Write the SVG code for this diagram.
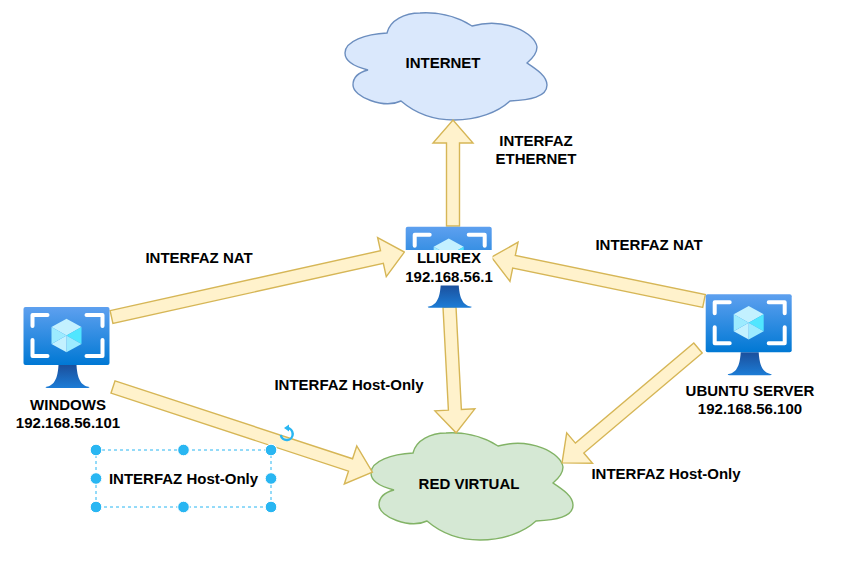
<svg xmlns="http://www.w3.org/2000/svg" xmlns:xlink="http://www.w3.org/1999/xlink" width="845" height="581" viewBox="0 0 845 581">
<style>
text{font-family:"Liberation Sans",Arial,sans-serif;font-size:15px;font-weight:bold;fill:#000;text-anchor:middle}
.arrow{fill:#fff2cc;stroke:#d6b656;stroke-width:1.4;stroke-linejoin:miter}
.h{fill:#29b6f2;stroke:#fff;stroke-width:1}
.br{fill:none;stroke:#fff;stroke-width:4;stroke-linecap:round;stroke-linejoin:round}
</style>
<defs>
<linearGradient id="scr" x1="0" y1="0" x2="0" y2="1"><stop offset="0" stop-color="#5ea0ef"/><stop offset="1" stop-color="#0078d4"/></linearGradient>
<linearGradient id="std" x1="0" y1="0" x2="0" y2="1"><stop offset="0" stop-color="#1b4f9c"/><stop offset="1" stop-color="#1c7cd6"/></linearGradient>
<path id="cloud" d="M387 33C366 34 345 41 345 53C345 62 356 67 368 70C356 73 353 80 353 85C353 97 384 109 401 101C415 113 433 120 454 120C478 120 498 112 510 101C530 100 547 97 547 85C547 76 536 69 527 63C533 58 537 53 537 47C535 33 505 17 472 26C455 15 435 12 420 13C405 13 390 20 387 33Z" stroke-width="1.4"/>
<g id="vm">
<path d="M22 80C28 79 34 76 35 58H53C54 76 60 79 66 80Q66 81 64 81H24Q22 81 22 80Z" fill="url(#std)"/>
<rect x="0" y="0" width="86" height="58" rx="2" fill="url(#scr)"/>
<path class="br" d="M9 19V8H24M63 8H79V19M9 33V49H24M63 49H79V33"/>
<path d="M43 11.700L58 20L43 28.500L28 20Z" fill="#c3f1ff"/>
<path d="M58 20V37L43 28.500Z" fill="#50e6ff"/>
<path d="M58 37L43 45.300V28.500Z" fill="#9cebff"/>
<path d="M28 37L43 45.300V28.500Z" fill="#c3f1ff"/>
<path d="M28 20V37L43 28.500Z" fill="#9cebff"/>
</g>
</defs>
<rect width="845" height="581" fill="#fff"/>
<g id="node-internet">
<use href="#cloud" xlink:href="#cloud" fill="#dae8fc" stroke="#6c8ebf"/>
<text x="443" y="68">INTERNET</text>
</g>
<g id="node-red-virtual">
<use href="#cloud" xlink:href="#cloud" transform="translate(26 420)" fill="#d5e8d4" stroke="#82b366"/>
<text x="469" y="489">RED VIRTUAL</text>
</g>
<g id="connectors">
<polygon class="arrow" transform="translate(453 226) rotate(-90)" points="0,-6.500 83,-6.500 83,-20 106,0 83,20 83,6.500 0,6.500"/>
<polygon class="arrow" transform="translate(111.500 317) rotate(-12.500)" points="0,-6.500 277,-6.500 277,-20 300,0 277,20 277,6.500 0,6.500"/>
<polygon class="arrow" transform="translate(704 301) rotate(191.670)" points="0,-6.500 194,-6.500 194,-20 217,0 194,20 194,6.500 0,6.500"/>
<polygon class="arrow" transform="translate(449.500 307) rotate(87)" points="0,-6.500 103,-6.500 103,-20 126,0 103,20 103,6.500 0,6.500"/>
<polygon class="arrow" transform="translate(113 387) rotate(18.170)" points="0,-6.500 250,-6.500 250,-20 273,0 250,20 250,6.500 0,6.500"/>
<polygon class="arrow" transform="translate(698 348) rotate(139.800)" points="0,-6.500 155,-6.500 155,-20 178,0 155,20 155,6.500 0,6.500"/>
</g>
<g id="node-lliurex">
<use href="#vm" xlink:href="#vm" x="405.700" y="226.700"/>
<rect x="405" y="250" width="87.500" height="35.500" fill="#fff"/>
<text x="449" y="263">LLIUREX</text>
<text x="449" y="282">192.168.56.1</text>
</g>
<g id="node-windows">
<use href="#vm" xlink:href="#vm" x="23.500" y="307"/>
<text x="68" y="410">WINDOWS</text>
<text x="68" y="428">192.168.56.101</text>
</g>
<g id="node-ubuntu">
<use href="#vm" xlink:href="#vm" x="705.700" y="294.300"/>
<text x="750" y="396">UBUNTU SERVER</text>
<text x="750" y="414">192.168.56.100</text>
</g>
<g id="label-nat-left"><text x="199" y="263">INTERFAZ NAT</text></g>
<g id="label-nat-right"><text x="649" y="250">INTERFAZ NAT</text></g>
<g id="label-ethernet"><text x="536" y="146">INTERFAZ</text><text x="536" y="164">ETHERNET</text></g>
<g id="label-host-center"><text x="349" y="390">INTERFAZ Host-Only</text></g>
<g id="label-host-right"><text x="666" y="479">INTERFAZ Host-Only</text></g>
<g id="label-host-selected">
<rect x="96" y="450" width="175" height="57" fill="none" stroke="#29b6f2" stroke-width="1" stroke-dasharray="3 3"/>
<text x="183.500" y="484">INTERFAZ Host-Only</text>
<circle class="h" cx="96" cy="450" r="5.800"/><circle class="h" cx="183.500" cy="450" r="5.800"/><circle class="h" cx="271" cy="450" r="5.800"/>
<circle class="h" cx="96" cy="478.500" r="5.800"/><circle class="h" cx="271" cy="478.500" r="5.800"/>
<circle class="h" cx="96" cy="507" r="5.800"/><circle class="h" cx="183.500" cy="507" r="5.800"/><circle class="h" cx="271" cy="507" r="5.800"/>
<path d="M287 428A6 6 0 1 1 280.800 435" fill="none" stroke="#29b6f2" stroke-width="2.500"/>
<path d="M289 424.500V431.500L284 428Z" fill="#29b6f2"/>
</g>
</svg>
